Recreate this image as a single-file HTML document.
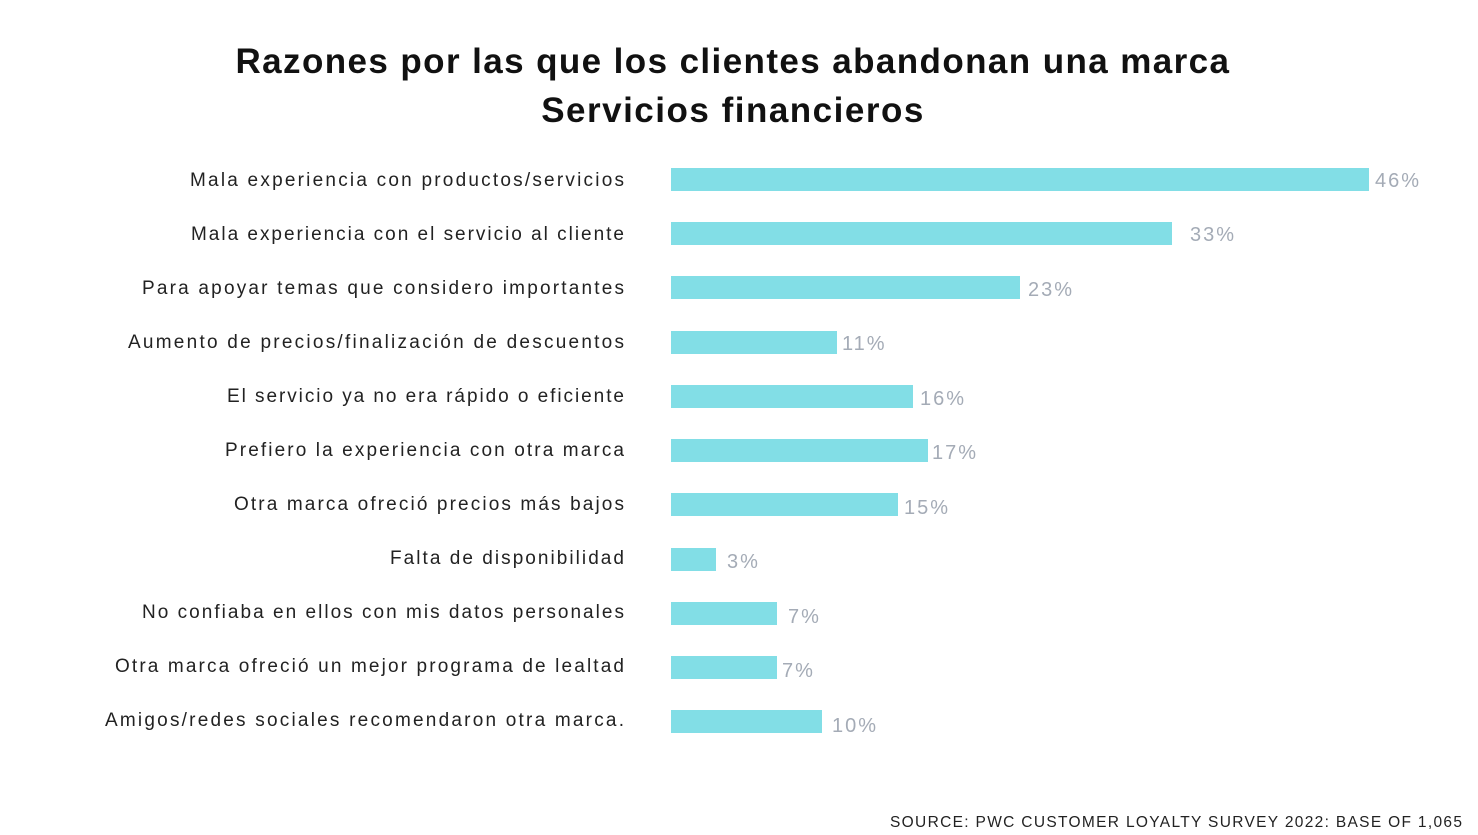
<!DOCTYPE html>
<html><head><meta charset="utf-8"><style>
html,body{margin:0;padding:0;background:#fff;width:1478px;height:835px;overflow:hidden}
</style></head><body>
<svg width="1478" height="835" xmlns="http://www.w3.org/2000/svg" font-family="Liberation Sans, sans-serif">
<text x="733" y="73" text-anchor="middle" font-size="35" font-weight="bold" letter-spacing="1.5" fill="#111" textLength="995" lengthAdjust="spacing">Razones por las que los clientes abandonan una marca</text>
<text x="733" y="122" text-anchor="middle" font-size="35" font-weight="bold" letter-spacing="1.5" fill="#111">Servicios financieros</text>
<g font-size="19" fill="#222" text-anchor="end" lengthAdjust="spacing">
<text x="624" y="186" textLength="434" lengthAdjust="spacing">Mala experiencia con productos/servicios</text>
<text x="624" y="240" textLength="433" lengthAdjust="spacing">Mala experiencia con el servicio al cliente</text>
<text x="624" y="294" textLength="482" lengthAdjust="spacing">Para apoyar temas que considero importantes</text>
<text x="624" y="348" textLength="496" lengthAdjust="spacing">Aumento de precios/finalización de descuentos</text>
<text x="624" y="402" textLength="397" lengthAdjust="spacing">El servicio ya no era rápido o eficiente</text>
<text x="624" y="456" textLength="399" lengthAdjust="spacing">Prefiero la experiencia con otra marca</text>
<text x="624" y="510" textLength="390" lengthAdjust="spacing">Otra marca ofreció precios más bajos</text>
<text x="624" y="564" textLength="234" lengthAdjust="spacing">Falta de disponibilidad</text>
<text x="624" y="618" textLength="482" lengthAdjust="spacing">No confiaba en ellos con mis datos personales</text>
<text x="624" y="672" textLength="509" lengthAdjust="spacing">Otra marca ofreció un mejor programa de lealtad</text>
<text x="624" y="726" textLength="519" lengthAdjust="spacing">Amigos/redes sociales recomendaron otra marca.</text>
</g>
<g fill="#82dee6">
<rect x="671" y="168" width="698" height="23"/>
<rect x="671" y="222" width="501" height="23"/>
<rect x="671" y="276" width="349" height="23"/>
<rect x="671" y="331" width="166" height="23"/>
<rect x="671" y="385" width="242" height="23"/>
<rect x="671" y="439" width="257" height="23"/>
<rect x="671" y="493" width="227" height="23"/>
<rect x="671" y="548" width="45" height="23"/>
<rect x="671" y="602" width="106" height="23"/>
<rect x="671" y="656" width="106" height="23"/>
<rect x="671" y="710" width="151" height="23"/>
</g>
<g font-size="20" letter-spacing="2" fill="#a4abb6">
<text x="1375" y="187">46%</text>
<text x="1190" y="241">33%</text>
<text x="1028" y="296">23%</text>
<text x="842" y="350">11%</text>
<text x="920" y="405">16%</text>
<text x="932" y="459">17%</text>
<text x="904" y="514">15%</text>
<text x="727" y="568">3%</text>
<text x="788" y="623">7%</text>
<text x="782" y="677">7%</text>
<text x="832" y="732">10%</text>
</g>
<text x="1462" y="827" text-anchor="end" font-size="15.5" fill="#222" textLength="572" lengthAdjust="spacing">SOURCE: PWC CUSTOMER LOYALTY SURVEY 2022: BASE OF 1,065</text>
</svg>
</body></html>
